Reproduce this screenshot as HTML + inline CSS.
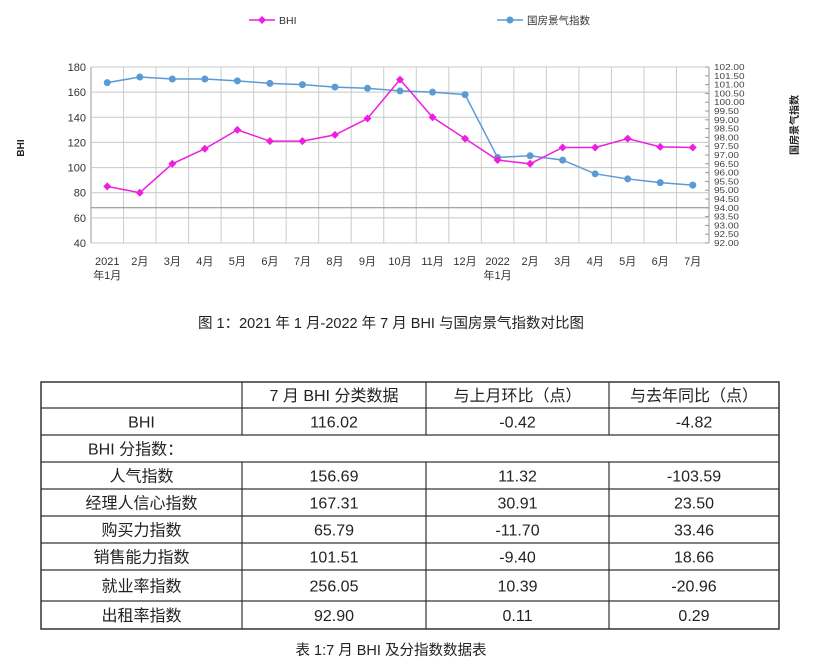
<!DOCTYPE html>
<html><head><meta charset="utf-8"><style>
html,body{margin:0;padding:0;background:#fff;width:823px;height:669px;overflow:hidden}
svg{display:block;font-family:"Liberation Sans","Noto Sans CJK SC",sans-serif}
</style></head><body>
<svg id="s" width="823" height="669" viewBox="0 0 823 669">
<g id="chart"></g>
<g id="tbl"></g>
<text x="391" y="328" text-anchor="middle" font-size="14.5" fill="#222">图 1：2021 年 1 月-2022 年 7 月 BHI 与国房景气指数对比图</text>
<text x="391" y="655" text-anchor="middle" font-size="14.5" fill="#222">表 1:7 月 BHI 及分指数数据表</text>
</svg>
<script>
const categories=["2021|年1月","2月","3月","4月","5月","6月","7月","8月","9月","10月","11月","12月","2022|年1月","2月","3月","4月","5月","6月","7月"];
const bhiValues=[85,80,103,115,130,121,121,126,139,170,140,123,106,103,116,116,123,116.5,116];
const guofangValues=[101.11,101.43,101.32,101.32,101.21,101.07,101.0,100.86,100.79,100.64,100.57,100.43,96.86,96.96,96.71,95.93,95.64,95.43,95.29];
const leftTicks=[40,60,80,100,120,140,160,180];
const rightTicks=["92.00","92.50","93.00","93.50","94.00","94.50","95.00","95.50","96.00","96.50","97.00","97.50","98.00","98.50","99.00","99.50","100.00","100.50","101.00","101.50","102.00"];

const NS="http://www.w3.org/2000/svg";
function mk(p,t,a){const e=document.createElementNS(NS,t);for(const k in a)e.setAttribute(k,a[k]);p.appendChild(e);return e;}
const X0=91,X1=709,Y0=67,Y1=243;
const n=categories.length,cw=(X1-X0)/n;
const xS=i=>X0+cw*(i+0.5);
const yL=v=>Y1-(v-40)/(180-40)*(Y1-Y0);
const yR=v=>Y1-(v-92)/(102-92)*(Y1-Y0);
const c=document.getElementById('chart');

for(let i=0;i<=n;i++){const l=mk(c,'line',{x1:X0+cw*i,x2:X0+cw*i,y1:Y0,y2:Y1,stroke:i==0||i==n?'#999':'#ccc','stroke-width':1});

}
leftTicks.forEach(v=>{const l=mk(c,'line',{x1:X0,x2:X1,y1:yL(v),y2:yL(v),stroke:'#c8c8c8'});


const t=mk(c,'text',{x:X0-5,y:yL(v)+4,'text-anchor':'end','font-size':11,fill:'#333'});t.textContent=v;

});
{const l=mk(c,'line',{x1:X0,x2:X1,y1:yR(94),y2:yR(94),stroke:'#888'});

}
rightTicks.forEach(v=>{const y=yR(parseFloat(v));
mk(c,'line',{x1:X1-4,x2:X1,y1:y,y2:y,stroke:'#999'});
const t=mk(c,'text',{x:714,y:y+3.5,'font-size':10,fill:'#444',transform:`translate(714 ${y}) scale(1 0.85) translate(-714 ${-y})`});t.textContent=v;

});
categories.forEach((s,i)=>{const p=s.split('|');p.forEach((q,j)=>{const t=mk(c,'text',{x:xS(i),y:265+j*14,'text-anchor':'middle','font-size':11,fill:'#333'});t.textContent=q;

});});

{const t=mk(c,'text',{x:0,y:0,'font-size':10,'font-weight':'bold',fill:'#222',transform:'translate(24 148) rotate(-90)','text-anchor':'middle'});t.textContent='BHI';

}
{const t=mk(c,'text',{x:0,y:0,'font-size':10,'font-weight':'bold',fill:'#222',transform:'translate(798 125) rotate(-90)','text-anchor':'middle'});t.textContent='国房景气指数';

}

function series(vals,sc,col,name,diamond){
const pl=mk(c,'polyline',{points:vals.map((v,i)=>xS(i)+','+sc(v)).join(' '),fill:'none',stroke:col,'stroke-width':1.5});


vals.forEach((v,i)=>{const x=xS(i),y=sc(v);let m;
if(diamond)m=mk(c,'polygon',{points:`${x},${y-4} ${x+4},${y} ${x},${y+4} ${x-4},${y}`,fill:col});
else m=mk(c,'circle',{cx:x,cy:y,r:3.5,fill:col});

});}
series(guofangValues,yR,'#5b9bd5','guofang');
series(bhiValues,yL,'#ee1ee0','bhi',true);

function leg(x,col,label,diamond,name){const g=mk(c,'g',{});


mk(g,'line',{x1:x,x2:x+26,y1:20,y2:20,stroke:col,'stroke-width':1.5});
if(diamond)mk(g,'polygon',{points:`${x+13},16 ${x+17},20 ${x+13},24 ${x+9},20`,fill:col});else mk(g,'circle',{cx:x+13,cy:20,r:3.5,fill:col});
const t=mk(g,'text',{x:x+30,y:24,'font-size':10.5,fill:'#333'});t.textContent=label;}
leg(249,'#ee1ee0','BHI',true,'legend-entry-bhi');
leg(497,'#5b9bd5','国房景气指数',false,'legend-entry-guofang');

const tb=document.getElementById('tbl');
const cols=[41,242,426,609,779];
const rows=[382,408,435,462,489,516,543,570,601,629];
const cells=[["","7 月 BHI 分类数据","与上月环比（点）","与去年同比（点）"],
["BHI","116.02","-0.42","-4.82"],
["BHI 分指数：",null,null,null],
["人气指数","156.69","11.32","-103.59"],
["经理人信心指数","167.31","30.91","23.50"],
["购买力指数","65.79","-11.70","33.46"],
["销售能力指数","101.51","-9.40","18.66"],
["就业率指数","256.05","10.39","-20.96"],
["出租率指数","92.90","0.11","0.29"]];
mk(tb,'rect',{x:41,y:382,width:738,height:247,fill:'none',stroke:'#333','stroke-width':1.5});
rows.slice(1,-1).forEach(y=>mk(tb,'line',{x1:41,x2:779,y1:y,y2:y,stroke:'#333','stroke-width':1.2}));
cols.slice(1,-1).forEach(x=>{mk(tb,'line',{x1:x,x2:x,y1:382,y2:435,stroke:'#333','stroke-width':1.2});mk(tb,'line',{x1:x,x2:x,y1:462,y2:629,stroke:'#333','stroke-width':1.2});});
cells.forEach((r,ri)=>{const yc=(rows[ri]+rows[ri+1])/2;r.forEach((v,ci)=>{if(v===null||v==="")return;
let x=(cols[ci]+cols[ci+1])/2,anchor='middle';if(ri==2){x=88;anchor='start';}
const t=mk(tb,'text',{x:x,y:yc+6,'text-anchor':anchor,'font-size':16,fill:'#222'});t.textContent=v;

});});
</script>
</body></html>
